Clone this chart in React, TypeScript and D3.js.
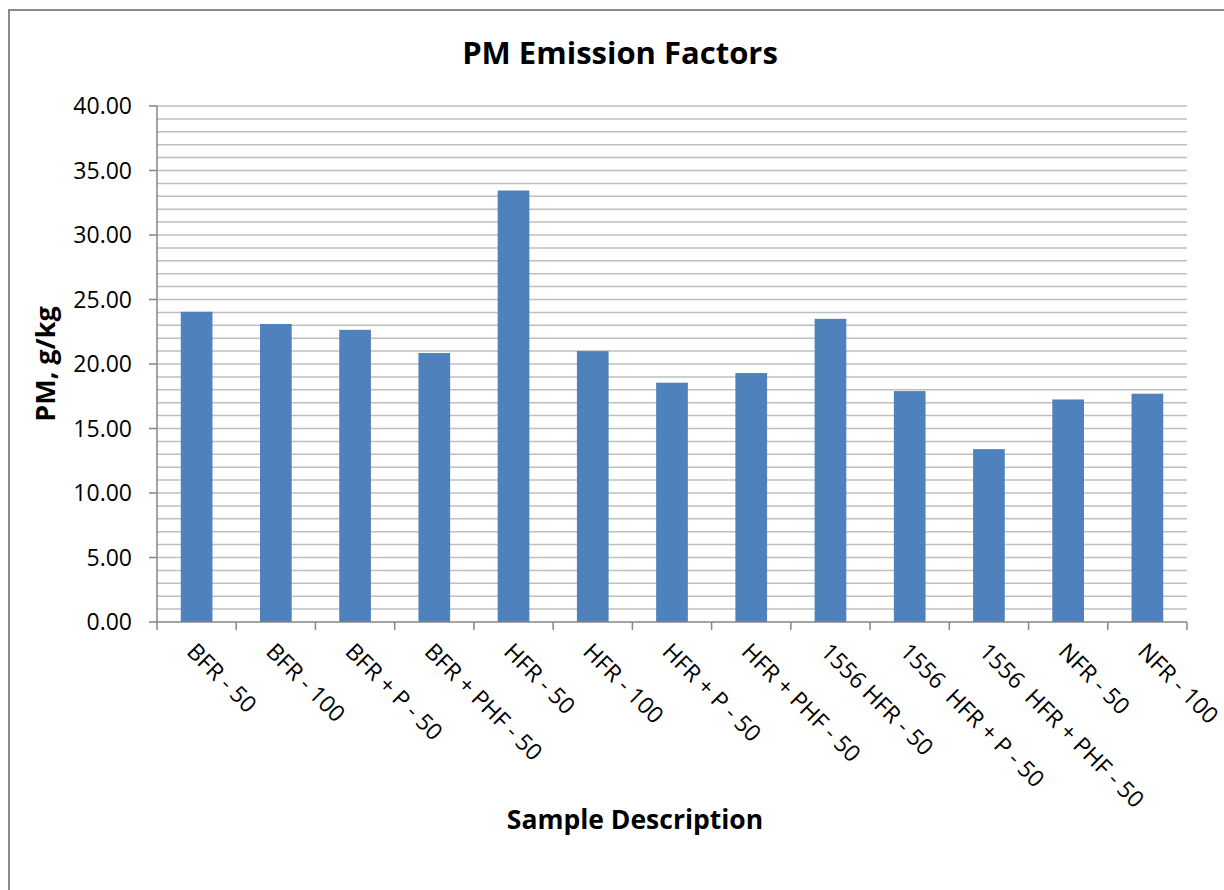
import { useEffect, useRef } from "react";
import * as d3 from "d3";

const CATEGORIES = [
  "BFR - 50",
  "BFR - 100",
  "BFR + P - 50",
  "BFR + PHF - 50",
  "HFR - 50",
  "HFR - 100",
  "HFR + P - 50",
  "HFR + PHF - 50",
  "1556 HFR - 50",
  "1556  HFR + P - 50",
  "1556  HFR + PHF - 50",
  "NFR - 50",
  "NFR - 100",
];

const PM_VALUES = [24.05, 23.1, 22.65, 20.85, 33.45, 21.0, 18.55, 19.3, 23.5, 17.9, 13.4, 17.25, 17.7];

const Y_TICKS = [0, 5, 10, 15, 20, 25, 30, 35, 40];
const Y_MINOR = d3.range(0, 41, 1);

const FONT = "'Open Sans', Lato, sans-serif";

export default function App() {
  const ref = useRef<SVGSVGElement | null>(null);

  useEffect(() => {
    if (!ref.current) return;
    const svg = d3.select(ref.current);
    svg.selectAll("*").remove();

    const width = 1224;
    const height = 890;
    const margin = { top: 106, right: 37, bottom: 268, left: 157 };

    const x = d3
      .scaleBand<string>()
      .domain(CATEGORIES)
      .range([margin.left, width - margin.right])
      .paddingInner(0.6)
      .paddingOuter(0.3);

    const y = d3
      .scaleLinear()
      .domain([0, 40])
      .range([height - margin.bottom, margin.top]);

    const step = x.step();
    const x0 = margin.left;
    const x1 = width - margin.right;

    // outer chart border
    svg
      .append("rect")
      .attr("x", 9)
      .attr("y", 10)
      .attr("width", width + 20)
      .attr("height", height + 20)
      .attr("fill", "white")
      .attr("stroke", "#8a8a8a")
      .attr("stroke-width", 2);

    // gridlines
    svg
      .append("g")
      .selectAll("line")
      .data(Y_MINOR.filter((d) => d > 0))
      .enter()
      .append("line")
      .attr("x1", x0)
      .attr("x2", x1)
      .attr("y1", (d) => y(d))
      .attr("y2", (d) => y(d))
      .attr("stroke", "#bfbfbf")
      .attr("stroke-width", 1.5);

    // bars
    svg
      .append("g")
      .selectAll("rect")
      .data(PM_VALUES)
      .enter()
      .append("rect")
      .attr("x", (_, i) => x(CATEGORIES[i]) ?? 0)
      .attr("y", (d) => y(d))
      .attr("width", x.bandwidth())
      .attr("height", (d) => y(0) - y(d))
      .attr("fill", "#4f81bd");

    // y axis
    const yAxis = svg.append("g");
    yAxis
      .append("line")
      .attr("x1", x0)
      .attr("x2", x0)
      .attr("y1", y(40))
      .attr("y2", y(0))
      .attr("stroke", "#868686")
      .attr("stroke-width", 1.5);
    yAxis
      .selectAll("line.tick")
      .data(Y_TICKS)
      .enter()
      .append("line")
      .attr("class", "tick")
      .attr("x1", x0 - 8)
      .attr("x2", x0)
      .attr("y1", (d) => y(d))
      .attr("y2", (d) => y(d))
      .attr("stroke", "#868686")
      .attr("stroke-width", 1.5);
    yAxis
      .selectAll("text")
      .data(Y_TICKS)
      .enter()
      .append("text")
      .attr("x", x0 - 25)
      .attr("y", (d) => y(d))
      .attr("dy", "0.36em")
      .attr("text-anchor", "end")
      .attr("font-family", FONT)
      .attr("font-size", 23)
      .attr("fill", "#000")
      .text((d) => d.toFixed(2));

    // x axis
    const xAxis = svg.append("g");
    xAxis
      .append("line")
      .attr("x1", x0)
      .attr("x2", x1)
      .attr("y1", y(0))
      .attr("y2", y(0))
      .attr("stroke", "#868686")
      .attr("stroke-width", 1.5);
    xAxis
      .selectAll("line.tick")
      .data(d3.range(CATEGORIES.length + 1))
      .enter()
      .append("line")
      .attr("class", "tick")
      .attr("x1", (i) => x0 + i * step)
      .attr("x2", (i) => x0 + i * step)
      .attr("y1", y(0))
      .attr("y2", y(0) + 8)
      .attr("stroke", "#868686")
      .attr("stroke-width", 1.5);
    xAxis
      .selectAll("text")
      .data(CATEGORIES)
      .enter()
      .append("text")
      .attr(
        "transform",
        (d) => `translate(${(x(d) ?? 0) + x.bandwidth() / 2 - 11},${y(0) + 31}) rotate(45)`
      )
      .attr("text-anchor", "start")
      .attr("font-family", FONT)
      .attr("font-size", 23)
      .attr("fill", "#000")
      .style("white-space", "pre")
      .text((d) => d);

    // titles
    svg
      .append("text")
      .attr("x", 620)
      .attr("y", 64)
      .attr("text-anchor", "middle")
      .attr("font-family", FONT)
      .attr("font-weight", "bold")
      .attr("font-size", 31)
      .text("PM Emission Factors");

    svg
      .append("text")
      .attr("x", 635)
      .attr("y", 829)
      .attr("text-anchor", "middle")
      .attr("font-family", FONT)
      .attr("font-weight", "bold")
      .attr("font-size", 26.5)
      .text("Sample Description");

    svg
      .append("text")
      .attr("transform", `translate(55,364) rotate(-90)`)
      .attr("text-anchor", "middle")
      .attr("font-family", FONT)
      .attr("font-weight", "bold")
      .attr("font-size", 27)
      .text("PM, g/kg");
  }, []);

  return (
    <svg
      ref={ref}
      width={1224}
      height={890}
      style={{ position: "absolute", left: 0, top: 0, display: "block", background: "white" }}
    />
  );
}
